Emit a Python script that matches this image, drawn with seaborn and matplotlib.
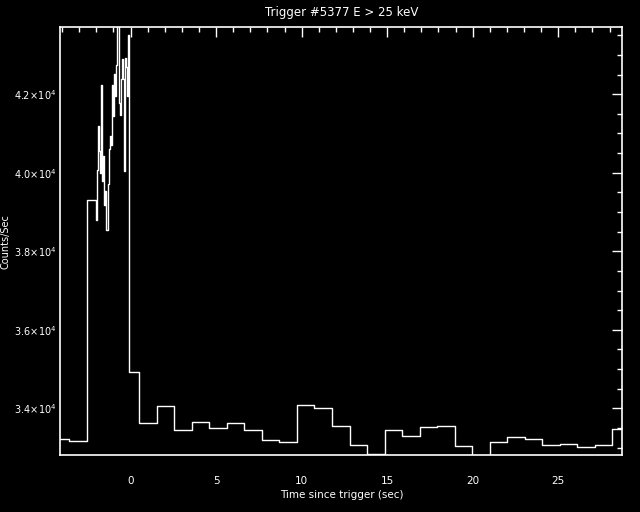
#!/usr/bin/env python3
"""BATSE-style light curve: Trigger #5377, E > 25 keV."""

import matplotlib
matplotlib.use("Agg")
import matplotlib.pyplot as plt
import matplotlib.ticker as mticker
import numpy as np
import pandas as pd
import seaborn as sns

# Pre-trigger 1.024 s bins (start times, sec) and rates
pre_start = [-4.608, -3.584, -2.56]
pre_counts = [33209, 33158, 39314]

# 64 ms bins starting at -2.048 s
fine_start = -2.048
fine_dt = 0.064
fine_counts = [
    38804, 40079, 41201, 40546, 39995, 42247, 39781, 40418, 39186, 39526,
    38531, 39714, 40615, 40929, 40717, 42247, 41439, 42528, 41949, 42732,
    43905, 41780, 41482, 42393, 42885, 42393, 40036, 42929, 42689, 41949,
    43497,
]

# Post-trigger: a short bin up to 0.512 s, then 1.024 s bins
post_first = 34918
post_start = 0.512
post_dt = 1.024
post_counts = [
    33617, 34059, 33439, 33643, 33490, 33617, 33439, 33184, 33133, 34077,
    34000, 33541, 33056, 32840, 33439, 33286, 33515, 33541, 33031, 32700,
    33133, 33260, 33209, 33056, 33082, 33005, 33056, 33464,
]

TITLE = "Trigger #5377 E > 25 keV"
XLABEL = "Time since trigger (sec)"
YLABEL = "Counts/Sec"


def main():
    fine_t = fine_start + fine_dt * np.arange(len(fine_counts))
    fine_end = fine_t[-1] + fine_dt
    post_t = post_start + post_dt * np.arange(len(post_counts))

    t = np.concatenate([pre_start, fine_t, [fine_end], post_t, [post_t[-1] + post_dt]])
    c = np.concatenate([pre_counts, fine_counts, [post_first], post_counts, [post_counts[-1]]])
    df = pd.DataFrame({"time": t, "counts": c})

    sns.set_theme(style="dark")
    plt.rcParams.update({
        "figure.facecolor": "black",
        "axes.facecolor": "black",
        "axes.edgecolor": "white",
        "text.color": "white",
        "axes.labelcolor": "white",
        "xtick.color": "white",
        "ytick.color": "white",
        "mathtext.default": "regular",
    })
    plt.rcParams["font.family"] = ["DejaVu Sans"]

    fig = plt.figure(figsize=(6.4, 5.12), dpi=100)
    ax = fig.add_axes([0.0945, 0.1113, 0.878, 0.835])

    sns.lineplot(
        data=df, x="time", y="counts", drawstyle="steps-post",
        estimator=None, sort=False, color="white", linewidth=1.0, ax=ax,
    )

    ax.set_xlim(-4.096, 28.75)
    ax.set_ylim(32810, 43700)
    ax.grid(False)

    for s in ax.spines.values():
        s.set_color("white")
        s.set_linewidth(1.2)

    ax.xaxis.set_major_locator(mticker.MultipleLocator(5))
    ax.xaxis.set_minor_locator(mticker.MultipleLocator(1))
    ax.yaxis.set_major_locator(mticker.MultipleLocator(2000))
    ax.yaxis.set_minor_locator(mticker.MultipleLocator(500))
    ax.yaxis.set_major_formatter(
        mticker.FuncFormatter(lambda v, p: r"$%.1f\!\times\!10^{4}$" % (v / 1e4))
    )
    ax.tick_params(which="both", direction="in", top=True, right=True,
                   colors="white", labelsize=7.5)
    ax.tick_params(which="major", length=7, width=1, pad=15)
    ax.tick_params(which="minor", length=3.5, width=1)
    ax.tick_params(axis="y", which="major", pad=3, labelsize=7)

    ax.set_title(TITLE, fontsize=8.5, color="white", pad=8)
    ax.set_xlabel(XLABEL, fontsize=7.5, labelpad=3)
    ax.set_ylabel(YLABEL, fontsize=7)
    ax.yaxis.set_label_coords(-0.089, 0.5)

    fig.savefig("out.png", dpi=100, facecolor="black")


if __name__ == "__main__":
    main()
